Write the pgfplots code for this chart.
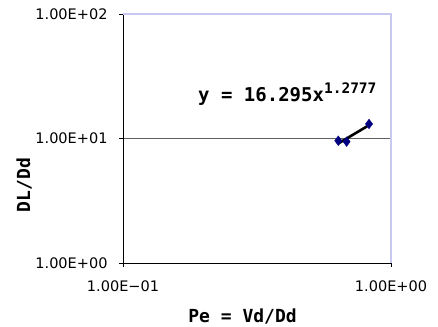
\documentclass[border=0pt]{standalone}
\usepackage{fontspec}
\setmainfont{DejaVu Sans}
\newfontfamily\monofont{DejaVu Sans Mono}
\usepackage{pgfplots}
\pgfplotsset{compat=1.18}
\definecolor{navy}{HTML}{000080}
\definecolor{lav}{HTML}{C8C8F0}
\definecolor{gridc}{HTML}{606060}
\begin{document}
\begin{tikzpicture}
\useasboundingbox (0,0) rectangle (438bp,327bp);
\begin{axis}[
  at={(123bp,64bp)}, anchor=south west,
  scale only axis, width=268bp, height=249bp,
  xmode=log, ymode=log,
  xmin=0.1, xmax=1, ymin=1, ymax=100,
  axis x line*=bottom, axis y line*=left,
  axis line style={black, line width=0.9bp, -},
  xtick={0.1,1}, ytick={1,10,100},
  xticklabels={1.00E−01,1.00E+00},
  yticklabels={1.00E+00,1.00E+01,1.00E+02},
  xminorticks=false, yminorticks=false,
  tick align=outside, major tick length=4bp,
  tick style={black, line width=0.9bp},
  ticklabel style={font=\fontsize{14.5bp}{16bp}\selectfont},
  xticklabel style={yshift=-10bp},
  yticklabel style={xshift=-8bp},
  ymajorgrids, major grid style={gridc, line width=0.9bp},
  clip=false,
]
\draw[lav, line width=1.5bp] (axis description cs:0,1) -- (axis description cs:1,1) -- (axis description cs:1,0);
\addplot[only marks, mark=diamond*, mark size=4.8bp, navy, mark options={fill=navy, draw=navy}]
  coordinates {(0.636,9.60) (0.683,9.43) (0.828,13.08)};
\addplot[black, line width=2.6bp, no marks] coordinates {(0.636,9.12) (0.828,12.8)};
\node[anchor=base west, inner sep=0] at (axis description cs:0.28,0.647)
  {\monofont\bfseries\fontsize{19bp}{20bp}\selectfont y = 16.295x\raisebox{8.5bp}{\fontsize{14.5bp}{15bp}\selectfont 1.2777}};
\node[inner sep=0] at (axis description cs:0.446,-0.213)
  {\monofont\bfseries\fontsize{18bp}{20bp}\selectfont Pe = Vd/Dd};
\node[inner sep=0, rotate=90] at (axis description cs:-0.369,0.313)
  {\monofont\bfseries\fontsize{18bp}{20bp}\selectfont DL/Dd};
\end{axis}
\end{tikzpicture}
\end{document}
